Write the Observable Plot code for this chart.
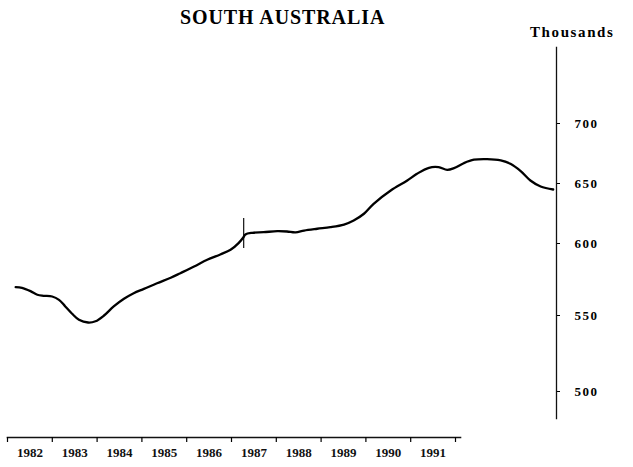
<!DOCTYPE html>
<html>
<head>
<meta charset="utf-8">
<script src="https://cdn.jsdelivr.net/npm/d3@7"></script>
<script src="https://cdn.jsdelivr.net/npm/@observablehq/plot@0.6"></script>
<style>
  html, body { margin: 0; padding: 0; background: #fff; }
  #wrap { position: relative; width: 633px; height: 467px; overflow: hidden; font-family: "Liberation Serif", "DejaVu Serif", serif; }
  #wrap svg { position: absolute; left: 0; top: 0; }
  .ttl { position: absolute; font-weight: bold; color: #000; white-space: nowrap; z-index: 5; }
</style>
</head>
<body>
<div id="wrap">
  <div class="ttl" id="title" style="left:180px; top:6px; font-size:20px; letter-spacing:0.9px;">SOUTH AUSTRALIA</div>
  <div class="ttl" id="units" style="left:530px; top:24px; font-size:15px; letter-spacing:1.6px;">Thousands</div>
</div>
<script>
// Employed persons, South Australia (thousands)
const dates = [1982.24, 1982.35, 1982.50, 1982.62, 1982.73, 1982.88, 1983.00, 1983.11, 1983.23, 1983.35,
  1983.51, 1983.64, 1983.79, 1983.96, 1984.14, 1984.31, 1984.49, 1984.72, 1984.96, 1985.13,
  1985.37, 1985.60, 1985.83, 1986.01, 1986.15, 1986.23, 1986.27, 1986.39, 1986.59, 1986.83,
  1987.00, 1987.15, 1987.30, 1987.53, 1987.76, 1988.00, 1988.17, 1988.35, 1988.52, 1988.82,
  1989.11, 1989.28, 1989.49, 1989.66, 1989.81, 1989.93, 1990.10, 1990.28, 1990.51, 1990.75,
  1990.92, 1991.10, 1991.27, 1991.45, 1991.67];
const employed = [569.7, 569.2, 566.9, 564.4, 563.7, 563.2, 560.9, 556.3, 551.2, 547.2,
  545.4, 546.2, 550.0, 556.3, 561.6, 565.5, 568.5, 572.4, 576.2, 579.4,
  584.0, 588.7, 592.4, 595.6, 600.3, 604.8, 607.5, 608.9, 609.4, 610.3,
  610.0, 609.2, 610.8, 612.3, 613.6, 615.8, 619.2, 624.8, 633.1, 644.2,
  652.5, 658.1, 663.1, 663.6, 661.4, 662.8, 666.9, 669.8, 670.3, 669.2,
  666.4, 660.3, 652.5, 647.5, 645.0];
const seriesBreak = [1986.24];      // series break marker
const breakSpan = [596.5, 620.8];   // extent of break marker (thousands)
const yTicks = [500, 550, 600, 650, 700];
const yearTicks = [1982, 1983, 1984, 1985, 1986, 1987, 1988, 1989, 1990, 1991, 1992];
const yearLabels = [1982, 1983, 1984, 1985, 1986, 1987, 1988, 1989, 1990, 1991];

const rows = dates.map((d, i) => ({date: d, value: employed[i]}));

const chart = Plot.plot({
  width: 633,
  height: 467,
  marginTop: 47,
  marginBottom: 49,
  marginLeft: 0,
  marginRight: 77,
  style: {background: "white", fontFamily: "Liberation Serif, serif", color: "#000"},
  x: {domain: [1982, 1992], range: [1.5, 571.5], axis: null},
  // y axis as printed (non-uniform spacing) -> piecewise linear scale
  y: {type: "linear", domain: yTicks, range: [391, 315, 243, 183, 123]},
  marks: [
    Plot.frame({anchor: "right", stroke: "#111", strokeWidth: 1.3}),
    Plot.axisY({anchor: "right", ticks: yTicks, tickSize: 3, tickPadding: 15,
      fontSize: 13, fontWeight: "bold", tickFormat: d => String(d), label: null}),
    Plot.ruleX(seriesBreak, {x: d => d, y1: breakSpan[0], y2: breakSpan[1], stroke: "#111", strokeWidth: 1.2}),
    Plot.line(rows, {x: "date", y: "value", curve: "catmull-rom", stroke: "#000", strokeWidth: 2.3})
  ]
});
chart.querySelectorAll("text").forEach(t => t.setAttribute("letter-spacing", "1.5"));

const xaxis = Plot.plot({
  width: 633,
  height: 467,
  marginTop: 47,
  marginBottom: 30,
  marginLeft: 7,
  marginRight: 173,
  style: {background: "transparent", fontFamily: "Liberation Serif, serif", color: "#000"},
  x: {domain: [1982, 1992], range: [7, 455]},
  marks: [
    Plot.frame({anchor: "bottom", stroke: "#111", strokeWidth: 1.6}),
    Plot.axisX({ticks: yearTicks, tickSize: 5, tickFormat: () => "", label: null, strokeWidth: 1.2}),
    Plot.text(yearLabels, {x: d => d + 0.5, text: d => String(d), frameAnchor: "bottom", dy: 15,
      lineAnchor: "middle", fontSize: 13, fontWeight: "bold", fill: "#111"})
  ]
});

const wrap = document.getElementById("wrap");
wrap.appendChild(chart);
wrap.appendChild(xaxis);
</script>
</body>
</html>
